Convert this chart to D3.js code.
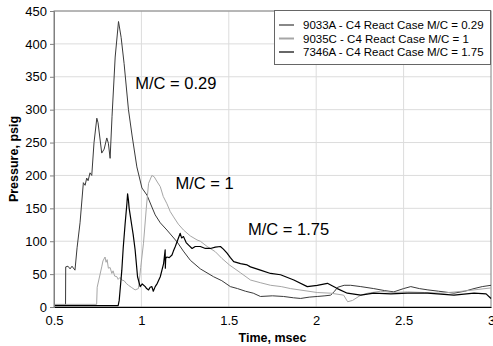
<!DOCTYPE html>
<html>
<head>
<meta charset="utf-8">
<script src="https://cdn.jsdelivr.net/npm/d3@7"></script>
<style>
  body { margin: 0; background: #fff; }
  svg { font-family: "Liberation Sans", Arial, sans-serif; }
</style>
</head>
<body>
<div id="chart"></div>
<script>
// 9033A - M/C = 0.29  [time msec, pressure psig]
var s9033A = [
  [0.5,3],[0.566,3],[0.567,61],[0.580,62],[0.592,58],[0.603,62],[0.620,56],[0.632,90],
  [0.649,128],[0.668,189],[0.678,185],[0.687,196],[0.695,192],[0.706,204],[0.716,200],
  [0.729,250],[0.745,287],[0.752,280],[0.773,234],[0.787,240],[0.802,257],[0.811,249],
  [0.821,226],[0.832,290],[0.850,380],[0.869,434],[0.884,410],[0.901,370],[0.926,300],
  [0.947,260],[0.974,213],[1.003,181],[1.032,170],[1.060,152],[1.079,140],[1.108,128],
  [1.146,117],[1.204,99],[1.240,85],[1.280,71],[1.337,58],[1.413,46],[1.460,40],[1.509,31],
  [1.550,28],[1.595,24],[1.640,21],[1.681,16],[1.750,17],[1.813,16],[1.870,14],[1.911,13],
  [1.960,15],[2.006,16],[2.050,17],[2.083,18],[2.105,24],[2.123,30],[2.160,33],[2.197,33],
  [2.255,31],[2.329,28],[2.390,25],[2.444,23],[2.500,28],[2.541,31],[2.590,28],[2.639,26],
  [2.700,24],[2.788,21],[2.850,24],[2.903,28],[2.950,31],[3.0,33]
];
// 9035C - M/C = 1
var s9035C = [
  [0.5,4],[0.744,4],[0.747,30],[0.773,61],[0.780,70],[0.792,76],[0.798,68],[0.804,72],
  [0.811,59],[0.821,60],[0.831,51],[0.838,55],[0.847,47],[0.860,46],[0.867,42],[0.878,45],
  [0.888,41],[0.901,40],[0.913,36],[0.926,33],[0.942,30],[0.964,26],[0.983,28],[0.996,60],
  [1.012,97],[1.028,150],[1.041,188],[1.060,200],[1.073,198],[1.091,190],[1.108,183],
  [1.125,168],[1.146,157],[1.165,145],[1.184,137],[1.211,126],[1.241,117],[1.280,108],
  [1.318,102],[1.337,100],[1.376,92],[1.423,84],[1.460,74],[1.503,64],[1.567,52],[1.624,41],
  [1.680,37],[1.739,33],[1.800,31],[1.853,28],[1.930,25],[2.006,22],[2.083,21],[2.157,18],
  [2.180,8],[2.208,10],[2.255,18],[2.295,21],[2.369,24],[2.440,22],[2.522,23],[2.620,22],
  [2.713,21],[2.800,23],[2.903,26],[3.0,29]
];
// 7346A - M/C = 1.75
var s7346A = [
  [0.5,2],[0.867,2],[0.873,10],[0.888,56],[0.896,90],[0.907,127],[0.917,157],[0.921,172],
  [0.926,162],[0.930,150],[0.946,122],[0.953,110],[0.964,87],[0.978,46],[0.993,31],
  [1.005,35],[1.022,31],[1.030,28],[1.041,26],[1.050,30],[1.060,31],[1.068,24],[1.079,31],
  [1.091,36],[1.108,46],[1.127,66],[1.136,87],[1.137,59],[1.139,74],[1.146,76],[1.159,75],
  [1.175,79],[1.183,85],[1.194,92],[1.205,100],[1.222,112],[1.230,105],[1.241,107],
  [1.256,98],[1.270,94],[1.290,89],[1.308,92],[1.337,92],[1.366,89],[1.395,89],[1.423,91],
  [1.452,92],[1.469,88],[1.490,82],[1.509,75],[1.528,69],[1.567,66],[1.605,64],[1.624,61],
  [1.681,56],[1.739,51],[1.796,49],[1.872,41],[1.949,31],[2.006,33],[2.064,36],[2.121,28],
  [2.178,21],[2.255,18],[2.329,21],[2.427,20],[2.522,21],[2.637,21],[2.788,18],[2.903,21],
  [2.972,20],[3.0,13]
];

var seriesNames = [
  "9033A - C4 React Case M/C = 0.29",
  "9035C - C4 React Case M/C = 1",
  "7346A - C4 React Case M/C = 1.75"
];
var seriesColors = ["#3a3a3a", "#a6a6a6", "#000000"];
var xTicks = [0.5, 1, 1.5, 2, 2.5, 3];
var yTicks = [0, 50, 100, 150, 200, 250, 300, 350, 400, 450];
var notes = [
  { label: "M/C = 0.29", t: 0.965, p: 332 },
  { label: "M/C = 1", t: 1.195, p: 179 },
  { label: "M/C = 1.75", t: 1.61, p: 110 }
];

var width = 493, height = 346;
var margin = { top: 11, right: 2, bottom: 39, left: 54 };

var svg = d3.select("#chart").append("svg")
  .attr("width", width).attr("height", height);

var x = d3.scaleLinear().domain([0.5, 3]).range([margin.left, width - margin.right]);
var y = d3.scaleLinear().domain([0, 450]).range([height - margin.bottom, margin.top]);

// grid
svg.append("g").selectAll("line").data(yTicks.slice(1))
  .join("line")
  .attr("x1", x(0.5)).attr("x2", x(3))
  .attr("y1", d => y(d)).attr("y2", d => y(d))
  .attr("stroke", "#dcdcdc");
svg.append("g").selectAll("line").data(xTicks.slice(1, -1))
  .join("line")
  .attr("x1", d => x(d)).attr("x2", d => x(d))
  .attr("y1", y(0)).attr("y2", y(450))
  .attr("stroke", "#dcdcdc");

// frame
svg.append("rect")
  .attr("x", x(0.5)).attr("y", y(450))
  .attr("width", x(3) - x(0.5)).attr("height", y(0) - y(450))
  .attr("fill", "none").attr("stroke", "#808080");

// series
var line = d3.line().x(d => x(d[0])).y(d => y(d[1]));
[s9033A, s9035C, s7346A].forEach((s, i) => {
  svg.append("path")
    .datum(s)
    .attr("d", line)
    .attr("fill", "none")
    .attr("stroke", seriesColors[i])
    .attr("stroke-width", i === 2 ? 1.2 : 1)
    .attr("stroke-linejoin", "round");
});

// axes
var xAxis = d3.axisBottom(x).tickValues(xTicks).tickFormat(d3.format("")).tickSize(0).tickPadding(9);
var yAxis = d3.axisLeft(y).tickValues(yTicks).tickSize(4).tickPadding(3);

var gx = svg.append("g").attr("transform", "translate(0," + y(0) + ")").call(xAxis);
gx.select(".domain").attr("stroke", "#000");
var gy = svg.append("g").attr("transform", "translate(" + x(0.5) + ",0)").call(yAxis);
gy.select(".domain").attr("stroke", "#808080");
gy.selectAll(".tick line").attr("stroke", "#808080");
svg.selectAll(".tick text").attr("font-size", 13).attr("fill", "#000")
  .attr("font-family", "Liberation Sans, Arial, sans-serif");

// axis titles
svg.append("text")
  .attr("x", (x(0.5) + x(3)) / 2).attr("y", 342)
  .attr("text-anchor", "middle")
  .attr("font-size", 12.5).attr("font-weight", "bold")
  .text("Time, msec");
svg.append("text")
  .attr("transform", "translate(18," + ((y(0) + y(450)) / 2) + ") rotate(-90)")
  .attr("text-anchor", "middle")
  .attr("font-size", 12.5).attr("font-weight", "bold")
  .text("Pressure, psig");

// annotations
svg.append("g").selectAll("text").data(notes)
  .join("text")
  .attr("x", d => x(d.t)).attr("y", d => y(d.p))
  .attr("font-size", 16.5)
  .text(d => d.label);

// legend
var lg = svg.append("g");
lg.append("rect")
  .attr("x", 274.5).attr("y", 10.5).attr("width", 216).attr("height", 54)
  .attr("fill", "#fff").attr("stroke", "#666");
seriesNames.forEach((name, i) => {
  var yy = 25 + i * 13.5;
  lg.append("line")
    .attr("x1", 279).attr("x2", 294).attr("y1", yy).attr("y2", yy)
    .attr("stroke", seriesColors[i]).attr("stroke-width", i === 1 ? 2 : 1.2);
  lg.append("text")
    .attr("x", 303).attr("y", yy + 4)
    .attr("font-size", 11.5)
    .text(name);
});
</script>
</body>
</html>
